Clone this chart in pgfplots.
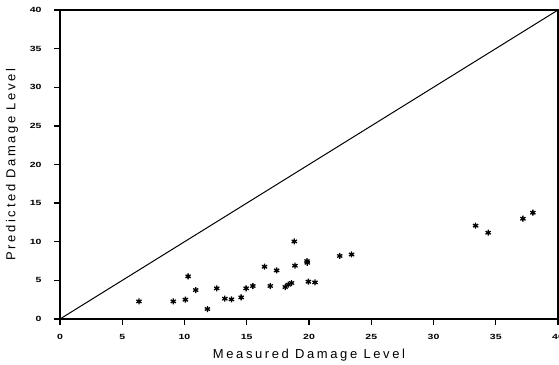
\documentclass[border=0pt]{standalone}
\usepackage{pgfplots}
\pgfplotsset{compat=1.18}
\usepackage{fontspec}
\setmainfont{Liberation Sans}
\newfontfamily\labfont[LetterSpace=20]{Liberation Sans}
\begin{document}
\begin{tikzpicture}
\begin{axis}[
  scale only axis,
  width=498pt, height=309pt,
  xmin=0, xmax=40, ymin=0, ymax=40,
  xtick={0,5,...,40}, ytick={0,5,...,40},
  xtick pos=bottom, ytick pos=left,
  xtick align=outside, ytick align=outside,
  major tick length=6pt,
  /pgf/number format/assume math mode=true,
  tick label style={font=\fontsize{7.5}{8}\selectfont\bfseries},
  xticklabel={\scalebox{1.4}[1]{\pgfmathprintnumber{\tick}}},
  yticklabel={\scalebox{1.4}[1]{\pgfmathprintnumber{\tick}}},
  xticklabel style={yshift=-6pt},
  yticklabel style={xshift=-9pt},
  xlabel={\labfont\fontsize{13}{15}\selectfont Measured Damage Level},
  ylabel={\labfont\fontsize{13}{15}\selectfont Predicted Damage Level},
  xlabel style={at={(axis description cs:0.5,0)}, anchor=center, yshift=-36pt},
  ylabel style={at={(axis description cs:0,0.5)}, anchor=center, yshift=48pt},
  axis line style={line width=1.1pt},
  major tick style={black, line width=1.3pt},
]
\addplot[black, line width=1pt] coordinates {(0,0) (40,40)};
\addplot[only marks, mark=asterisk, mark size=3pt, black, line width=1.3pt] coordinates {
(6.34,2.28) (9.1,2.28) (10.07,2.5) (10.29,5.52) (10.9,3.75) (11.84,1.29)
(12.59,3.97) (13.24,2.63) (13.77,2.54) (14.55,2.8) (14.95,3.97) (15.49,4.27)
(16.43,6.77) (16.89,4.27) (17.4,6.29) (18.09,4.14) (18.33,4.44) (18.6,4.66)
(18.82,10.04) (18.87,6.9) (19.84,7.5) (19.86,7.28) (19.95,4.83) (20.48,4.74)
(22.47,8.16) (23.42,8.35) (33.38,12.08) (34.39,11.17) (37.18,12.98) (37.98,13.76)
};
\end{axis}
\pgfresetboundingbox
\path (-60pt,-45pt) rectangle (499pt,319pt);
\end{tikzpicture}
\end{document}
